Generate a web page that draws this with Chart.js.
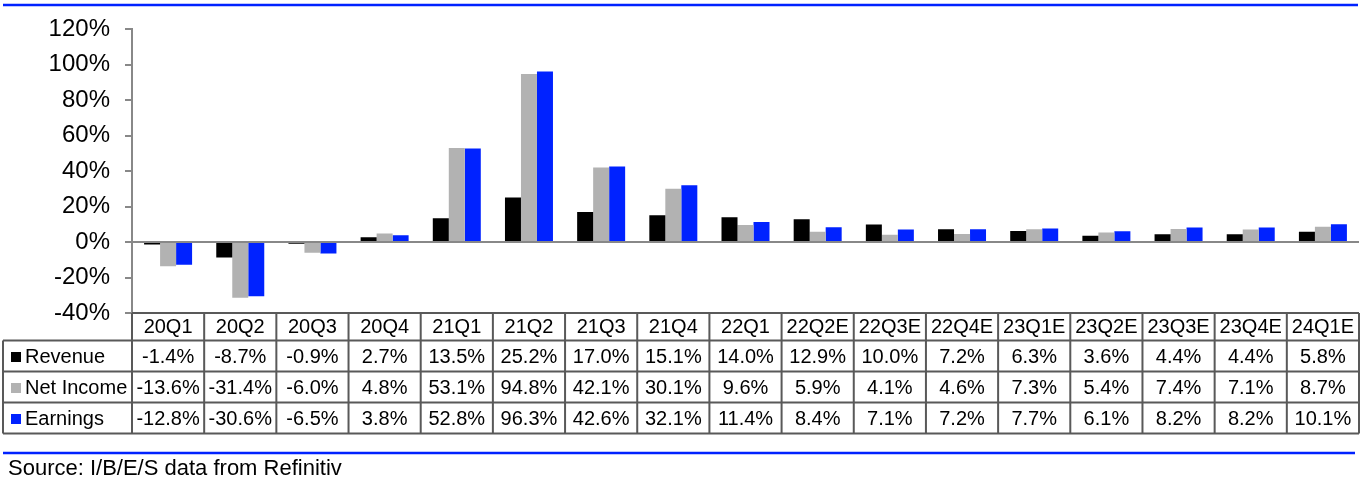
<!DOCTYPE html>
<html>
<head>
<meta charset="utf-8">
<script src="https://cdn.jsdelivr.net/npm/chart.js@4"></script>
<style>
  html, body { margin: 0; padding: 0; background: #fff; }
  #wrap { width: 1366px; height: 481px; position: relative; }
</style>
</head>
<body>
<div id="wrap"><canvas id="growth"></canvas></div>
<script>
const quarters = ["20Q1", "20Q2", "20Q3", "20Q4", "21Q1", "21Q2", "21Q3", "21Q4", "22Q1",
  "22Q2E", "22Q3E", "22Q4E", "23Q1E", "23Q2E", "23Q3E", "23Q4E", "24Q1E"];
const revenue = [-1.4, -8.7, -0.9, 2.7, 13.5, 25.2, 17.0, 15.1, 14.0, 12.9, 10.0, 7.2, 6.3, 3.6, 4.4, 4.4, 5.8];
const netIncome = [-13.6, -31.4, -6.0, 4.8, 53.1, 94.8, 42.1, 30.1, 9.6, 5.9, 4.1, 4.6, 7.3, 5.4, 7.4, 7.1, 8.7];
const earnings = [-12.8, -30.6, -6.5, 3.8, 52.8, 96.3, 42.6, 32.1, 11.4, 8.4, 7.1, 7.2, 7.7, 6.1, 8.2, 8.2, 10.1];
const yTicks = [-40, -20, 0, 20, 40, 60, 80, 100, 120];
const sourceNote = "Source: I/B/E/S data from Refinitiv";

const BLUE = "#0022ff";
const GRAY = "#b2b2b2";
const FONT = "Liberation Sans, Arial, sans-serif";

// data table + blue rules + source line, drawn under the plot
const dataTable = {
  id: "dataTable",
  afterDraw(chart) {
    const ctx = chart.ctx;
    const x = chart.scales.x;
    const area = chart.chartArea;
    const colW = x.getPixelForValue(1) - x.getPixelForValue(0);
    const left = 3;
    const tableLeft = area.left;
    const tableRight = x.getPixelForValue(quarters.length - 1) + colW / 2;
    const rowTops = [area.bottom, 340.5, 371.5, 402.5, 433.5];
    const rows = [
      { name: "Revenue", color: "#000", vals: revenue },
      { name: "Net Income", color: GRAY, vals: netIncome },
      { name: "Earnings", color: BLUE, vals: earnings },
    ];

    ctx.save();
    ctx.strokeStyle = "#595959";
    ctx.lineWidth = 2;
    // horizontal lines
    ctx.beginPath();
    ctx.moveTo(tableLeft, rowTops[0]); ctx.lineTo(tableRight, rowTops[0]);
    for (let i = 1; i < rowTops.length; i++) {
      ctx.moveTo(left, rowTops[i]); ctx.lineTo(tableRight, rowTops[i]);
    }
    // vertical lines
    ctx.moveTo(left, rowTops[1]); ctx.lineTo(left, rowTops[4]);
    for (let i = 0; i <= quarters.length; i++) {
      const cx = x.getPixelForValue(0) - colW / 2 + i * colW;
      ctx.moveTo(cx, rowTops[0]); ctx.lineTo(cx, rowTops[4]);
    }
    ctx.stroke();

    ctx.font = "20px " + FONT;
    ctx.fillStyle = "#000";
    ctx.textAlign = "center";
    ctx.textBaseline = "middle";
    quarters.forEach((q, i) => {
      ctx.fillText(q, x.getPixelForValue(i), (rowTops[0] + rowTops[1]) / 2 + 1);
    });
    rows.forEach((r, ri) => {
      const cy = (rowTops[ri + 1] + rowTops[ri + 2]) / 2 + 1;
      ctx.fillStyle = r.color;
      ctx.fillRect(11, cy - 5, 10, 10);
      ctx.fillStyle = "#000";
      ctx.textAlign = "left";
      ctx.fillText(r.name, 25, cy);
      ctx.textAlign = "center";
      r.vals.forEach((v, i) => {
        ctx.fillText(v.toFixed(1) + "%", x.getPixelForValue(i), cy);
      });
    });

    // blue rules
    ctx.strokeStyle = BLUE;
    ctx.lineWidth = 2.5;
    ctx.beginPath();
    ctx.moveTo(3, 5); ctx.lineTo(1358, 5);
    ctx.moveTo(3, 453); ctx.lineTo(1355, 453);
    ctx.stroke();

    ctx.fillStyle = "#000";
    ctx.textAlign = "left";
    ctx.font = "22px " + FONT;
    ctx.fillText(sourceNote, 8, 469);
    ctx.restore();
  },
};

document.addEventListener("DOMContentLoaded", function () {
  const growth = document.getElementById("growth");
  new Chart(growth, {
    type: "bar",
    data: {
      labels: quarters,
      datasets: [
        { label: "Revenue", data: revenue, backgroundColor: "#000" },
        { label: "Net Income", data: netIncome, backgroundColor: GRAY },
        { label: "Earnings", data: earnings, backgroundColor: BLUE },
      ],
    },
    options: {
      responsive: true,
      maintainAspectRatio: false,
      animation: false,
      layout: { padding: { top: 24, bottom: 168, left: 0, right: 7 } },
      datasets: { bar: { categoryPercentage: 0.665, barPercentage: 1 } },
      scales: {
        x: { display: false },
        y: {
          min: -40,
          max: 120,
          afterFit: (s) => { s.width = 132; },
          afterBuildTicks: (s) => { s.ticks = yTicks.map((v) => ({ value: v })); },
          ticks: {
            color: "#000",
            font: { family: FONT, size: 24 },
            padding: 15,
            callback: (v) => v + "%",
          },
          grid: {
            color: (c) => (c.tick && c.tick.value === 0 ? "#888" : "transparent"),
            lineWidth: 2,
            tickColor: "#888",
            tickLength: 7,
          },
          border: { color: "#888", width: 2 },
        },
      },
      plugins: {
        legend: { display: false },
        tooltip: { enabled: false },
      },
    },
    plugins: [dataTable],
  });
});
</script>
</body>
</html>
